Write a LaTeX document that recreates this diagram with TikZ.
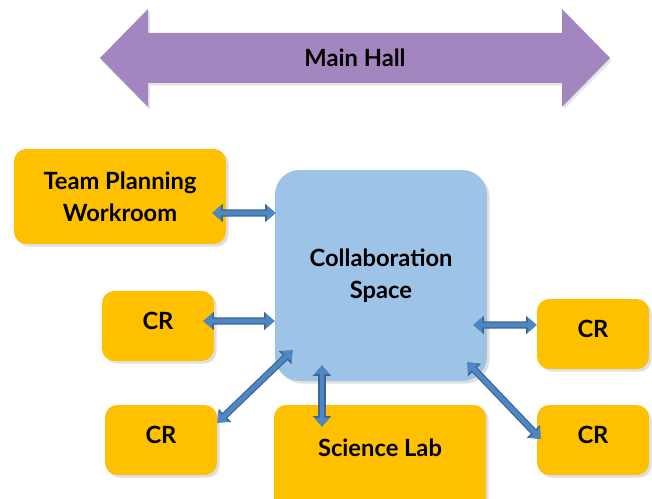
\documentclass[tikz,border=0pt]{standalone}
\usepackage{fontspec}
\setmainfont{Lato}
\usetikzlibrary{calc,shadows,arrows.meta}

\definecolor{roomorange}{HTML}{FFC000}
\definecolor{collabblue}{HTML}{9DC3E6}
\definecolor{hallpurple}{HTML}{A386BF}
\definecolor{linkblue}{HTML}{4F86C4}
\definecolor{linkdark}{HTML}{3B6796}

\tikzset{
  room/.style={fill=roomorange, rounded corners=7pt, align=center,
    font=\bfseries\fontsize{13.5}{18}\selectfont,
    drop shadow={opacity=0.25, shadow xshift=1.5pt, shadow yshift=-1.5pt}},
  crroom/.style={room, minimum width=2.24cm, minimum height=1.4cm, text depth=6pt},
  link/.style={linkblue, line width=2.6pt,
    {Triangle[width=8pt,length=5pt]}-{Triangle[width=8pt,length=5pt]},
    preaction={draw=linkdark, line width=4pt,
      {Triangle[width=10pt,length=6pt]}-{Triangle[width=10pt,length=6pt]}}}
}

\begin{document}
\begin{tikzpicture}[x=0.02cm, y=-0.02cm]
  \useasboundingbox (0,0) rectangle (652,499);
  \clip (0,0) rectangle (652,499);

  % main hall
  \fill[hallpurple, drop shadow={opacity=0.2, shadow xshift=1pt, shadow yshift=-1.5pt}]
    (100,58) -- (148,9) -- (148,33) -- (562,33) -- (562,9) -- (610,58)
    -- (562,107) -- (562,83) -- (148,83) -- (148,107) -- cycle;
  \node[font=\bfseries\fontsize{13.5}{14}\selectfont] (hall) at (355,58) {Main Hall};

  % rooms
  \node[room, minimum width=4.24cm, minimum height=1.9cm] (tpw) at (120,196.5) {Team Planning\\Workroom};
  \node[crroom] (cr1) at (158,326) {CR};
  \node[crroom] (cr2) at (161,440) {CR};
  \node[crroom] (cr3) at (593,334) {CR};
  \node[crroom] (cr4) at (593,440) {CR};
  \node[room, minimum width=4.24cm, minimum height=2.3cm,
    label={[font=\bfseries\fontsize{13.5}{14}\selectfont, yshift=8.5pt]center:Science Lab}] (lab) at (380,462.5) {};
  \node[room, fill=collabblue, rounded corners=14pt, minimum width=4.24cm, minimum height=4.22cm] (collab) at (381,275.5) {Collaboration\\Space};

  % connections
  \draw[link] ($(tpw.east)+(-14,16.5)$) -- ($(collab.west)+(1,-62.5)$);
  \draw[link] ($(cr1.east)+(-11,-5)$) -- ($(collab.west)+(0,45.5)$);
  \draw[link] ($(collab.south west)+(18,-31)$) -- ($(cr2.north east)+(0,18)$);
  \draw[link] ($(collab.south)+(-59,-16)$) -- ($(lab.north)+(-58,22)$);
  \draw[link] ($(collab.east)+(-14,49.5)$) -- ($(cr3.west)+(0,-9)$);
  \draw[link] ($(collab.south east)+(-20,-19)$) -- ($(cr4.west)+(4,-1)$);
\end{tikzpicture}
\end{document}
